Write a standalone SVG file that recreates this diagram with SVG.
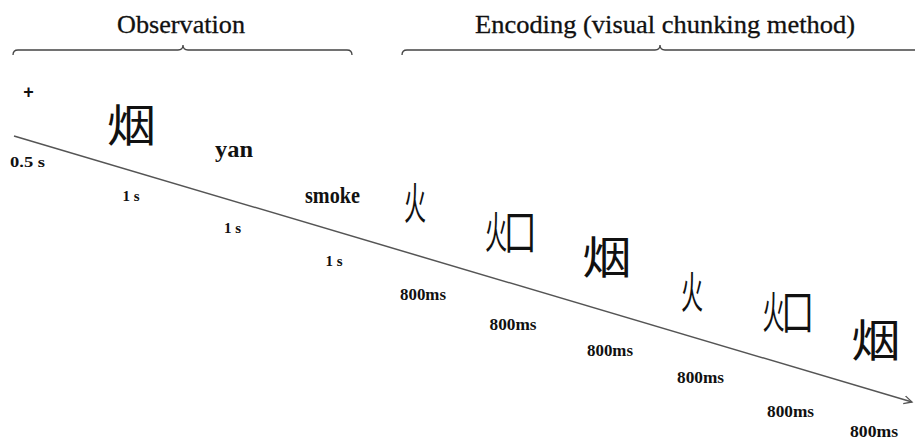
<svg xmlns="http://www.w3.org/2000/svg" xmlns:xlink="http://www.w3.org/1999/xlink" width="915" height="443" viewBox="0 0 915 443">
  <style>
    .title { font-family: "Liberation Serif", "Times New Roman", serif; font-size: 26px; fill: #111; stroke: #111; stroke-width: 0.3; text-anchor: middle; }
    .dur { font-family: "Liberation Serif", "Times New Roman", serif; font-size: 15px; font-weight: bold; fill: #111; text-anchor: middle; }
    .ms { font-size: 17px; }
    .word { font-family: "Liberation Serif", "Times New Roman", serif; font-size: 24px; font-weight: bold; fill: #111; text-anchor: middle; }
    .cjk { font-family: "Noto Sans CJK SC", sans-serif; font-size: 44px; fill: #111; text-anchor: middle; }
    .brace { fill: none; stroke: #444; stroke-width: 1.3; }
    .timeline { fill: none; stroke: #555; stroke-width: 1.5; }
  </style>
  <defs>
    <marker id="openArrow" markerWidth="10" markerHeight="10" refX="8" refY="5" orient="auto" markerUnits="userSpaceOnUse">
      <path d="M0,1 L8,5 L0,9" fill="none" stroke="#555" stroke-width="1.3"/>
    </marker>
    <!-- fire radical, narrow left-hand form -->
    <g id="fire">
      <text class="cjk" transform="scale(0.5,1)">火</text>
    </g>
    <!-- fire radical plus enclosure -->
    <g id="firebox">
      <text class="cjk" transform="translate(-14,0) scale(0.5,1)">火</text>
      <text class="cjk" transform="translate(10,0) scale(0.72,1)">囗</text>
    </g>
    <!-- full character -->
    <g id="yanchar">
      <text class="cjk" transform="scale(1.12,1)">烟</text>
    </g>
  </defs>

  <rect width="915" height="443" fill="#fff"/>

  <!-- phase headings with braces -->
  <g id="phase-observation">
    <text class="title" x="181" y="33" textLength="128" lengthAdjust="spacingAndGlyphs">Observation</text>
    <path class="brace" d="M13,55 Q13,50 18,50 H178 Q183,50 183,45 Q183,50 188,50 H347 Q352,50 352,55"/>
  </g>
  <g id="phase-encoding">
    <text class="title" x="665" y="33" textLength="380" lengthAdjust="spacingAndGlyphs">Encoding (visual chunking method)</text>
    <path class="brace" d="M402,55 Q402,50 407,50 H655 Q660,50 660,45 Q660,50 665,50 H915"/>
  </g>

  <!-- time axis -->
  <g id="connectors">
    <line class="timeline" x1="14" y1="136" x2="912" y2="402" marker-end="url(#openArrow)"/>
  </g>

  <!-- observation frames -->
  <g id="fixation">
    <text x="28.5" y="98" font-family="Liberation Sans, Arial, sans-serif" font-size="18" font-weight="bold" fill="#111" text-anchor="middle">+</text>
    <text class="dur" x="27.5" y="167" textLength="35" lengthAdjust="spacingAndGlyphs">0.5 s</text>
  </g>
  <g id="obs-character">
    <use xlink:href="#yanchar" x="131.5" y="142"/>
    <text class="dur" x="131" y="201">1 s</text>
  </g>
  <g id="obs-pinyin">
    <text class="word" x="234" y="157" textLength="38" lengthAdjust="spacingAndGlyphs">yan</text>
    <text class="dur" x="232.5" y="233">1 s</text>
  </g>
  <g id="obs-meaning">
    <text class="word" x="332.5" y="203" textLength="55" lengthAdjust="spacingAndGlyphs">smoke</text>
    <text class="dur" x="334" y="266">1 s</text>
  </g>

  <!-- encoding frames -->
  <g id="enc-1">
    <use xlink:href="#fire" x="415" y="220"/>
    <text class="dur ms" x="423" y="300" textLength="46" lengthAdjust="spacingAndGlyphs">800ms</text>
  </g>
  <g id="enc-2">
    <use xlink:href="#firebox" x="510" y="249"/>
    <text class="dur ms" x="513" y="330" textLength="47" lengthAdjust="spacingAndGlyphs">800ms</text>
  </g>
  <g id="enc-3">
    <use xlink:href="#yanchar" x="607" y="274"/>
    <text class="dur ms" x="610" y="356" textLength="46" lengthAdjust="spacingAndGlyphs">800ms</text>
  </g>
  <g id="enc-4">
    <use xlink:href="#fire" x="692" y="309"/>
    <text class="dur ms" x="700.5" y="383" textLength="47" lengthAdjust="spacingAndGlyphs">800ms</text>
  </g>
  <g id="enc-5">
    <use xlink:href="#firebox" x="787.5" y="329"/>
    <text class="dur ms" x="790.5" y="417" textLength="47" lengthAdjust="spacingAndGlyphs">800ms</text>
  </g>
  <g id="enc-6">
    <use xlink:href="#yanchar" x="876" y="357"/>
    <text class="dur ms" x="874" y="437" textLength="48" lengthAdjust="spacingAndGlyphs">800ms</text>
  </g>
</svg>
